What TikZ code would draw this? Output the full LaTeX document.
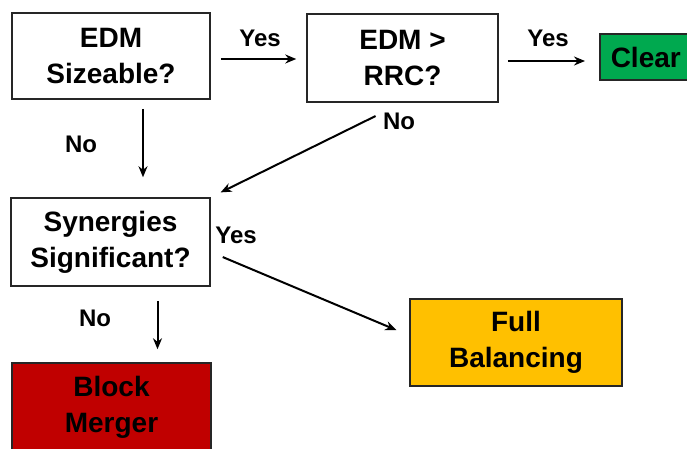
\documentclass[tikz,border=0pt]{standalone}
\usepackage{fontspec}
\setmainfont{Liberation Sans}
\usetikzlibrary{arrows.meta}
\definecolor{okgreen}{HTML}{00A94F}
\definecolor{warnamber}{HTML}{FFC000}
\definecolor{stopred}{HTML}{C00000}
\begin{document}
\begin{tikzpicture}[x=1pt,y=-1pt,
  box/.style={draw=black!85, line width=1.5pt, align=center, inner sep=0pt,
    font=\fontsize{28}{36}\selectfont\bfseries},
  lbl/.style={font=\fontsize{24}{28}\selectfont\bfseries, anchor=base, inner sep=0pt},
  arr/.style={line width=2pt, -{Stealth[length=11pt,width=9pt]}}]
\useasboundingbox (0,0) rectangle (687,448);

% decision boxes
\node[box, minimum width=198pt, minimum height=86pt] (b1) at (111,56) {EDM\\Sizeable?};
\node[box, minimum width=191pt, minimum height=88pt] (b2) at (402.5,58) {EDM >\\RRC?};
\node[box, minimum width=199pt, minimum height=88pt] (syn) at (110.5,242) {Synergies\\Significant?};

% outcome boxes
\node[box, fill=okgreen, anchor=west, inner xsep=11pt, minimum height=46pt] (clr) at (599,57) {Clear};
\node[box, fill=warnamber, minimum width=212pt, minimum height=87pt] (full) at (516,342.5) {Full\\Balancing};
\node[box, fill=stopred, minimum width=199pt, minimum height=88pt] (blk) at (111.5,407) {Block\\Merger};

% connectors
\coordinate (s1) at ([yshift=-3pt]b1.east);
\draw[arr, shorten <=10pt, shorten >=10pt] (s1) -- (s1 -| b2.west);
\coordinate (s2) at ([yshift=-3pt]b2.east);
\draw[arr, shorten <=9pt, shorten >=14pt] (s2) -- (s2 -| clr.west);
\coordinate (s3) at ([xshift=32pt]b1.south);
\draw[arr, shorten <=9pt, shorten >=20pt] (s3) -- (s3 |- syn.north);
\draw[arr, shorten <=30pt, shorten >=11pt] (b2.south) -- (syn.north east);
\draw[arr, shorten <=13pt, shorten >=14pt] ([yshift=-10pt]syn.east) -- ([yshift=7pt]full.west);
\coordinate (s4) at ([xshift=47pt]syn.south);
\draw[arr, shorten <=14pt, shorten >=13pt] (s4) -- (s4 |- blk.north);

% branch labels
\node[lbl] (y1) at (260,46) {Yes};
\node[lbl] (y2) at (548,46) {Yes};
\node[lbl] (n1) at (81,152) {No};
\node[lbl] (n2) at (399,129) {No};
\node[lbl] (y3) at (236,243) {Yes};
\node[lbl] (n3) at (95,326) {No};
\end{tikzpicture}
\end{document}
